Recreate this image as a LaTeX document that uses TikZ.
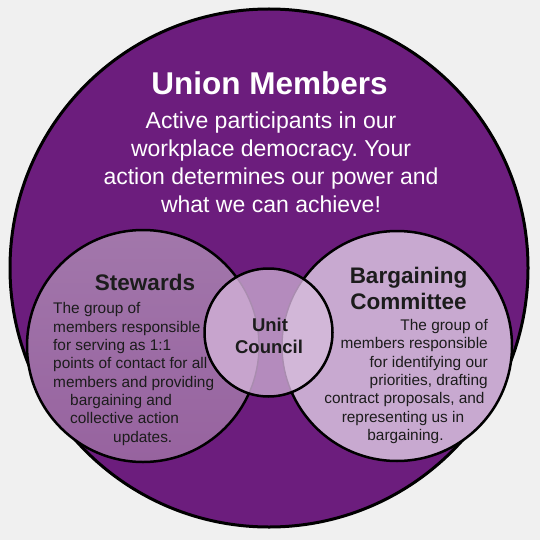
\documentclass[tikz,border=0pt]{standalone}
\usepackage{fontspec}
\setmainfont{Liberation Sans}
\frenchspacing
\definecolor{bgcol}{HTML}{F0F0F0}
\definecolor{bigpurple}{HTML}{6C1D7D}
\definecolor{stewtop}{HTML}{A277AB}
\definecolor{stewbot}{HTML}{97639F}
\definecolor{bargcol}{HTML}{C8A9D0}
\definecolor{unitcol}{HTML}{B48BBD}
\definecolor{unitleft}{HTML}{C7A4CD}
\definecolor{unitright}{HTML}{D2B7D8}
\definecolor{faintline}{HTML}{A98CAF}
\definecolor{inktext}{HTML}{1C1C1C}
\begin{document}
\begin{tikzpicture}[x=1pt,y=-1pt,
  ring/.style={circle, draw=black, inner sep=0pt, outer sep=0pt},
  titletext/.style={text=white, inner sep=0pt, font=\fontsize{31.5}{38}\selectfont\bfseries},
  bodytext/.style={text=white, inner sep=0pt, font=\fontsize{23}{27.6}\selectfont},
  headtext/.style={text=inktext, inner sep=0pt, font=\fontsize{22.5}{26}\selectfont\bfseries},
  unittext/.style={text=inktext, inner sep=0pt, font=\fontsize{18.5}{22}\selectfont\bfseries},
  smalltext/.style={text=inktext, inner sep=0pt, font=\fontsize{15.4}{18.4}\selectfont}]
\fill[bgcol] (0,0) rectangle (540,540);
\useasboundingbox (0,0) rectangle (540,540);
% circles
\node[ring, line width=3pt, fill=bigpurple, minimum size=518pt] (members) at (269,268) {};
\node[ring, line width=2.5pt, top color=stewtop, bottom color=stewbot, minimum size=232pt] (stewards) at (143,346) {};
\node[ring, line width=2.5pt, fill=bargcol, minimum size=230pt] (bargaining) at (397,346) {};
\begin{scope}
  \clip (268.5,332.5) circle (64);
  \fill[unitcol] (268.5,332.5) circle (64);
  \fill[unitleft] (143,346) circle (116);
  \fill[unitright] (397,346) circle (115);
  \draw[faintline, line width=1.4pt] (143,346) circle (116);
  \draw[faintline, line width=1.4pt] (397,346) circle (115);
\end{scope}
\node[ring, line width=2.5pt, minimum size=128pt] (unit) at (268.5,332.5) {};
% top texts
\node[titletext, anchor=base] (title) at (269.5,95) {Union Members};
\node[bodytext, anchor=base] (b1) at (271,129) {Active participants in our};
\node[bodytext, anchor=base] (b2) at (271,157) {workplace democracy. Your};
\node[bodytext, anchor=base] (b3) at (271,184) {action determines our power and};
\node[bodytext, anchor=base] (b4) at (271,212) {what we can achieve!};
% stewards
\node[headtext, anchor=base] (sh) at (145,290) {Stewards};
\node[smalltext, anchor=base west] (s1) at (53,313) {The group of};
\node[smalltext, anchor=base west] (s2) at (53,332) {members responsible};
\node[smalltext, anchor=base west] (s3) at (53,350) {for serving as 1:1};
\node[smalltext, anchor=base west] (s4) at (53,368) {points of contact for all};
\node[smalltext, anchor=base west] (s5) at (53,387) {members and providing};
\node[smalltext, anchor=base west] (s6) at (70,405) {bargaining and};
\node[smalltext, anchor=base west] (s7) at (70,423) {collective action};
\node[smalltext, anchor=base west] (s8) at (113,442) {updates.};
% bargaining committee
\node[headtext, anchor=base] (bh1) at (408.5,283) {Bargaining};
\node[headtext, anchor=base] (bh2) at (408.5,309) {Committee};
\node[smalltext, anchor=base east] (r1) at (488,330) {The group of};
\node[smalltext, anchor=base east] (r2) at (488,348) {members responsible};
\node[smalltext, anchor=base east] (r3) at (488,367) {for identifying our};
\node[smalltext, anchor=base east] (r4) at (488,385) {priorities, drafting};
\node[smalltext, anchor=base] (r5) at (404.5,403) {contract proposals, and};
\node[smalltext, anchor=base] (r6) at (403,422) {representing us in};
\node[smalltext, anchor=base] (r7) at (405.5,440) {bargaining.};
% unit council
\node[unittext, anchor=base] (u1) at (270,331) {Unit};
\node[unittext, anchor=base] (u2) at (269,353) {Council};
\end{tikzpicture}
\end{document}
